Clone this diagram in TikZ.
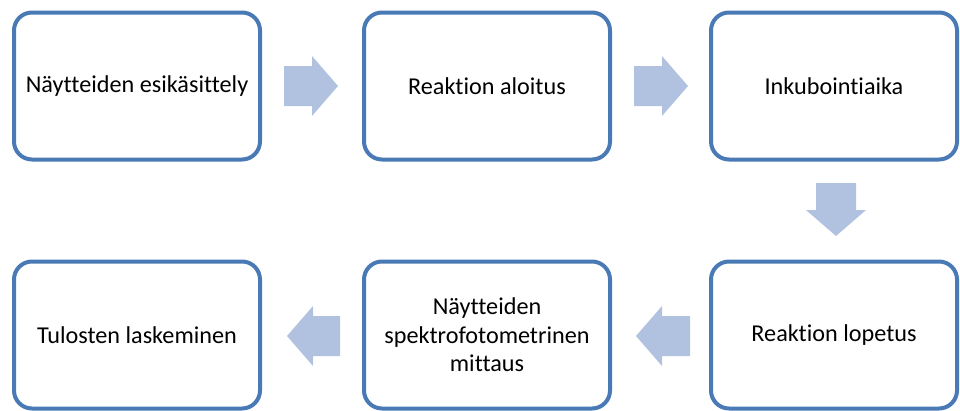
\documentclass[tikz,border=0pt]{standalone}
\usepackage{fontspec}
\setmainfont[Ligatures=NoCommon]{Carlito}
\definecolor{boxline}{HTML}{4A7AB5}
\definecolor{arrowfill}{HTML}{B0C2DF}
\begin{document}
\begin{tikzpicture}[x=1pt,y=-1pt,
  stepbox/.style={draw=boxline, line width=4pt, rounded corners=18pt, fill=white,
    minimum width=246pt, minimum height=147pt, align=center, inner sep=4pt,
    font=\fontsize{24.2}{28.5}\selectfont, text=black},
  flowarrow/.style={fill=arrowfill, draw=none}]
\useasboundingbox (0,0) rectangle (960,410);
\node[stepbox] (b1) at (137,86) {Näytteiden esikäsittely};
\node[stepbox] (b2) at (487,86) {Reaktion aloitus};
\node[stepbox] (b3) at (834,86) {Inkubointiaika};
\node[stepbox] (b4) at (834,335) {Reaktion lopetus};
\node[stepbox] (b5) at (487,335) {Näytteiden\\spektrofotometrinen\\mittaus};
\node[stepbox] (b6) at (137,335) {Tulosten laskeminen};
% right arrows
\fill[flowarrow] (284,66) -- (312,66) -- (312,56) -- (338,86) -- (312,116) -- (312,106) -- (284,106) -- cycle;
\fill[flowarrow] (634,66) -- (662,66) -- (662,56) -- (688,86) -- (662,116) -- (662,106) -- (634,106) -- cycle;
% down arrow
\fill[flowarrow] (816,183) -- (856,183) -- (856,210) -- (866,210) -- (836,236) -- (806,210) -- (816,210) -- cycle;
% left arrows
\fill[flowarrow] (690,316) -- (662,316) -- (662,306) -- (636,336) -- (662,366) -- (662,356) -- (690,356) -- cycle;
\fill[flowarrow] (340,316) -- (313,316) -- (313,306) -- (287,336) -- (313,366) -- (313,356) -- (340,356) -- cycle;
\end{tikzpicture}
\end{document}
